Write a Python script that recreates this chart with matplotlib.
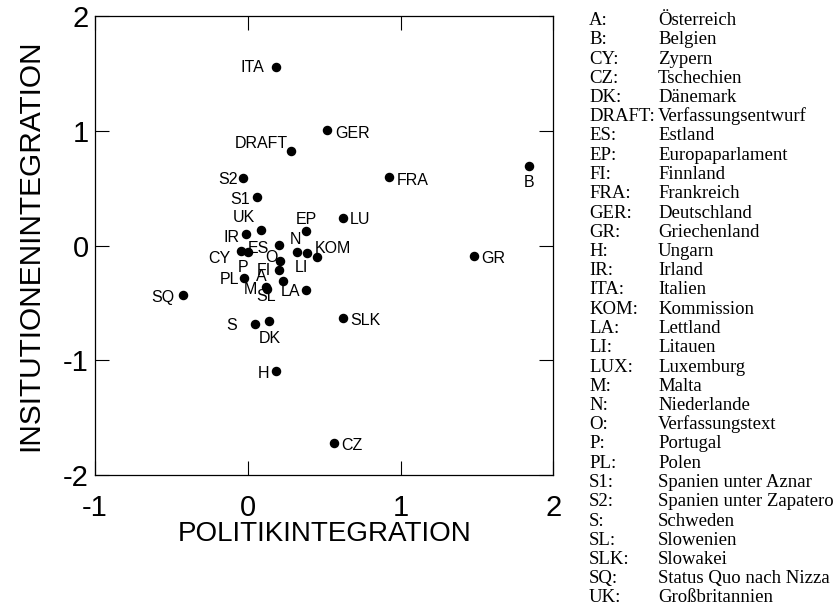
import matplotlib
matplotlib.use("Agg")
import matplotlib.pyplot as plt

plt.rcParams["axes.unicode_minus"] = False

# point labels and coordinates (politik, institutionen)
labels = ["ITA", "GER", "DRAFT", "S2", "FRA", "B", "S1", "UK", "IR", "EP", "LU",
          "ES", "CY", "P", "N", "LI", "KOM", "O", "FI", "PL", "A", "M", "SL",
          "LA", "SQ", "SLK", "S", "DK", "GR", "H", "CZ"]
politik = [0.188, 0.520, 0.286, -0.033, 0.923, 1.839, 0.061, 0.088, -0.009, 0.384, 0.622,
           0.203, -0.043, 0.002, 0.323, 0.389, 0.454, 0.210, 0.203, -0.022, 0.232, 0.122, 0.128,
           0.378, -0.423, 0.624, 0.050, 0.138, 1.479, 0.188, 0.563]
institution = [1.552, 1.006, 0.826, 0.591, 0.599, 0.695, 0.425, 0.135, 0.100, 0.129, 0.242,
               0.010, -0.048, -0.054, -0.054, -0.062, -0.103, -0.135, -0.213, -0.280, -0.306, -0.364, -0.374,
               -0.382, -0.431, -0.626, -0.678, -0.658, -0.091, -1.093, -1.718]

# legend table
abbrevs = ["A:", "B:", "CY:", "CZ:", "DK:", "DRAFT:", "ES:", "EP:", "FI:", "FRA:", "GER:",
           "GR:", "H:", "IR:", "ITA:", "KOM:", "LA:", "LI:", "LUX:", "M:", "N:", "O:",
           "P:", "PL:", "S1:", "S2:", "S:", "SL:", "SLK:", "SQ:", "UK:"]
names = ["Österreich", "Belgien", "Zypern", "Tschechien", "Dänemark", "Verfassungsentwurf",
         "Estland", "Europaparlament", "Finnland", "Frankreich", "Deutschland", "Griechenland",
         "Ungarn", "Irland", "Italien", "Kommission", "Lettland", "Litauen", "Luxemburg", "Malta",
         "Niederlande", "Verfassungstext", "Portugal", "Polen", "Spanien unter Aznar",
         "Spanien unter Zapatero", "Schweden", "Slowenien", "Slowakei", "Status Quo nach Nizza",
         "Großbritannien"]

# label placement: (dx px, dy px, ha)
label_pos = {
    "ITA": (-12, 0, "right"), "GER": (8, -3, "left"), "DRAFT": (-4, 7, "right"),
    "S2": (-5, -2, "right"), "FRA": (8, -4, "left"), "B": (0, -17, "center"),
    "S1": (-7, -3, "right"), "UK": (-6, 13, "right"), "IR": (-7, -3, "right"),
    "EP": (0, 11, "center"), "LU": (7, -2, "left"), "ES": (-10, -4, "right"),
    "CY": (-11, -7, "right"), "P": (-5, -16, "center"), "N": (-2, 12, "center"),
    "LI": (-6, -15, "center"), "KOM": (-2, 9, "left"), "O": (-2, 4, "right"),
    "FI": (-8, 0, "right"), "PL": (-5, -2, "right"), "A": (-17, 4, "right"),
    "M": (-9, -2, "right"), "SL": (-1, -8, "center"), "LA": (-5, -2, "right"),
    "SQ": (-9, -2, "right"), "SLK": (7, -3, "left"), "S": (-18, -2, "right"),
    "DK": (1, -17, "center"), "GR": (8, -2, "left"), "H": (-7, -2, "right"),
    "CZ": (7, -3, "left"),
}

W, H = 839, 605
fig = plt.figure(figsize=(W / 100, H / 100), dpi=100)
ax = fig.add_axes([95 / W, 1 - 475.3 / H, 458.3 / W, 459.3 / H])

ax.scatter(politik, institution, s=34, color="black", zorder=3)
for lab, x, y in zip(labels, politik, institution):
    dx, dy, ha = label_pos[lab]
    ax.annotate(lab, (x, y), xytext=(dx, dy), textcoords="offset pixels",
                ha=ha, va="center", fontsize=11.5, family="Liberation Sans")

ax.set_xlim(-1, 2)
ax.set_ylim(-2, 2)
ax.set_xticks([-1, 0, 1, 2])
ax.set_yticks([-2, -1, 0, 1, 2])
ax.tick_params(direction="in", length=10, width=0.8, top=True, right=True,
               labelsize=21, color="black")
ax.tick_params(axis="x", pad=13.5)
ax.tick_params(axis="y", pad=4.5)
for lbl in ax.get_xticklabels() + ax.get_yticklabels():
    lbl.set_family("Liberation Sans")
for sp in ax.spines.values():
    sp.set_linewidth(0.9)

ax.text(0.5, (475.3 - 534) / 459.3, "POLITIKINTEGRATION", transform=ax.transAxes,
        ha="center", va="center", fontsize=20, family="Liberation Sans")
ax.text((30 - 95) / 458.3, 0.5, "INSITUTIONENINTEGRATION", transform=ax.transAxes,
        ha="center", va="center", rotation=90, fontsize=21.5, family="Liberation Sans")

# legend as plain text table
for i, (ab, nm) in enumerate(zip(abbrevs, names)):
    yb = 1 - (25 + 19.25 * i) / H
    fig.text(589 / W, yb, ab, ha="left", va="baseline", fontsize=13.5, family="Liberation Serif")
    fig.text(658 / W, yb, nm, ha="left", va="baseline", fontsize=13.5, family="Liberation Serif")

fig.savefig("out.png", dpi=100)
